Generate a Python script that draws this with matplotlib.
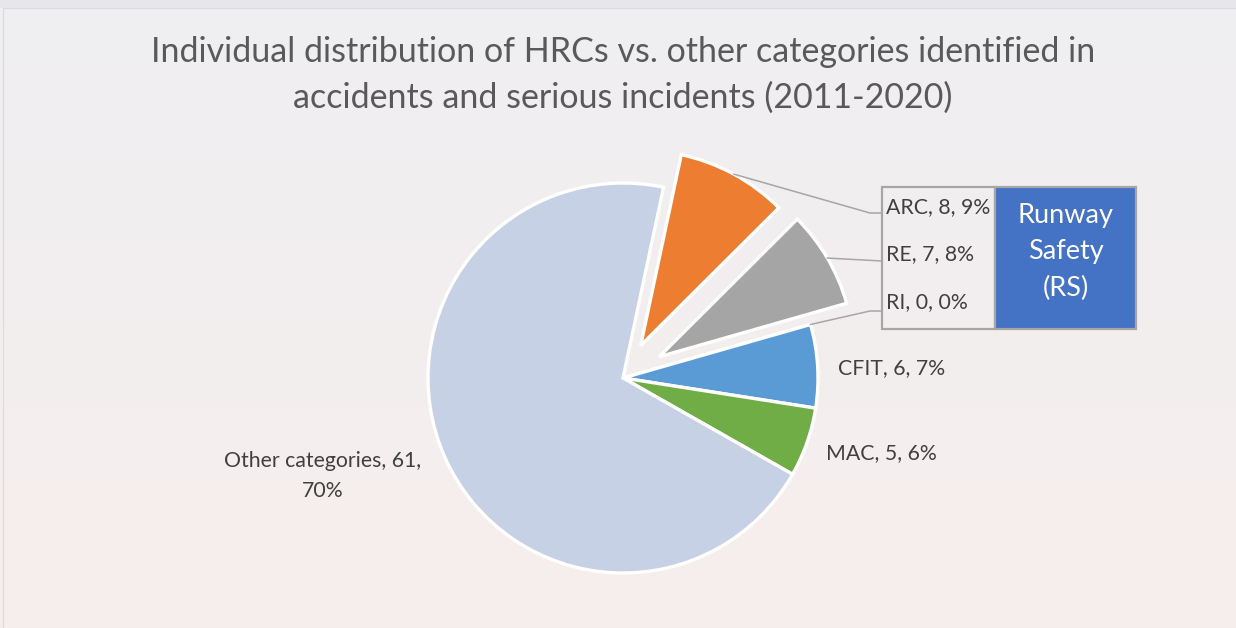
import numpy as np
import matplotlib
matplotlib.use('Agg')
from matplotlib import pyplot as plt
from matplotlib.patches import Rectangle

plt.rcParams['font.family'] = ['Lato', 'DejaVu Sans']

# chart data
categories = ['ARC', 'RE', 'RI', 'CFIT', 'MAC', 'Other categories']
counts = [8, 7, 0, 6, 5, 61]
colors = ['#ED7D31', '#A5A5A5', '#A5A5A5', '#5B9BD5', '#70AD47', '#C7D1E6']
explode = [0.19, 0.215, 0, 0, 0, 0]   # fraction of radius
rs_group = ['ARC', 'RE', 'RI']
title = 'Individual distribution of HRCs vs. other categories identified in\naccidents and serious incidents (2011-2020)'

W, H = 1236, 628
R = 195
fig = plt.figure(figsize=(W / 100, H / 100), dpi=100)
ax = fig.add_axes([0, 0, 1, 1])

# soft background gradient (grey at top, faint pink at bottom)
top = np.array([0.938, 0.935, 0.945])
bot = np.array([0.967, 0.935, 0.930])
t = np.linspace(0, 1, 256)[:, None]
grad = (top * (1 - t) + bot * t)[:, None, :]
ax.imshow(grad, extent=(0, W, 0, H), aspect='auto', zorder=0)
ax.add_patch(Rectangle((0, H - 8), W, 8, facecolor='#E7E6EA', edgecolor='none', zorder=0.5))
ax.add_patch(Rectangle((3, 0), W, H - 8, facecolor='none', edgecolor='#DADADD', lw=0.8, zorder=0.6))

def py(y):
    # pixel row from the top -> data y
    return H - y

total = sum(counts)
wedges, _ = ax.pie(counts, colors=colors, explode=[e * R for e in explode], radius=R,
                   center=(623, py(378)), startangle=78, counterclock=False,
                   wedgeprops=dict(edgecolor='white', linewidth=2.4),
                   frame=True)
for w in wedges:
    w.set_zorder(2)

ax.set_xlim(0, W)
ax.set_ylim(0, H)
ax.set_aspect('auto')
ax.axis('off')

txt_col = '#404040'
line_col = '#A6A6A6'
fs = 15.3

def label(i):
    pct = round(counts[i] / total * 100)
    return f'{categories[i]}, {counts[i]}, {pct}%'

def edge_point(w):
    mid = np.deg2rad((w.theta1 + w.theta2) / 2)
    cx, cy = w.center
    return cx + w.r * np.cos(mid), cy + w.r * np.sin(mid)

# runway safety labels in a box, with leader lines
box_left, box_right, box_top, box_bot = 882, 995, 187, 329
label_rows = [207, 254, 302]
elbows = [(870, 213), None, (870, 311)]
line_ends = [213, 261, 311]
for k, name in enumerate(rs_group):
    i = categories.index(name)
    x0, y0 = edge_point(wedges[i])
    xs, ys = [x0], [y0]
    if elbows[k] is not None:
        xs.append(elbows[k][0]); ys.append(py(elbows[k][1]))
    xs.append(box_left); ys.append(py(line_ends[k]))
    ax.plot(xs, ys, color=line_col, lw=1.1, zorder=3)
    ax.text(box_left + 4, py(label_rows[k]), label(i), fontsize=fs,
            color=txt_col, ha='left', va='center', zorder=4)

ax.add_patch(Rectangle((box_left, py(box_bot)), box_right - box_left, box_bot - box_top,
                       facecolor='none', edgecolor=line_col, lw=1.6, zorder=3))
ax.add_patch(Rectangle((box_right, py(box_bot)), 1136 - box_right, box_bot - box_top,
                       facecolor='#4472C4', edgecolor=line_col, lw=1.6, zorder=3))
ax.text((box_right + 1136) / 2, py(252), 'Runway\nSafety\n(RS)', fontsize=19.5,
        color='white', ha='center', va='center', linespacing=1.55, zorder=4)

# remaining slice labels
i = categories.index('CFIT')
ax.text(838, py(368), label(i), fontsize=fs, color=txt_col, ha='left', va='center')
i = categories.index('MAC')
ax.text(826, py(453), label(i), fontsize=fs, color=txt_col, ha='left', va='center')
i = categories.index('Other categories')
ax.text(323, py(476), f'{categories[i]}, {counts[i]},\n{round(counts[i] / total * 100)}%',
        fontsize=fs, color=txt_col, ha='center', va='center', linespacing=1.6)

ax.text(623, py(75), title, fontsize=24.5, color='#595959', ha='center', va='center',
        linespacing=1.54)

fig.savefig('out.png', dpi=100)
